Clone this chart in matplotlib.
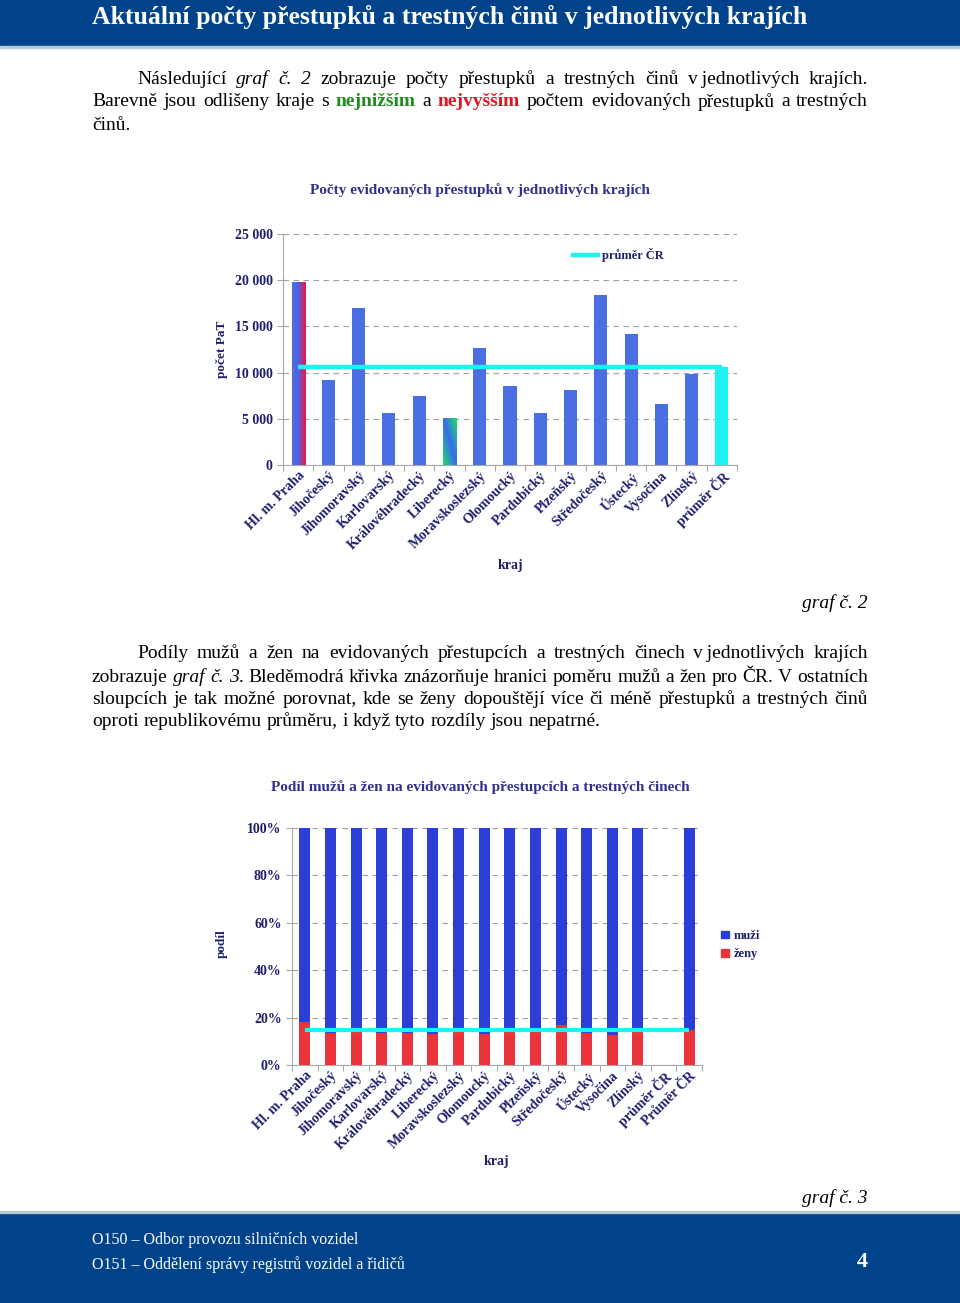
import numpy as np
import matplotlib
matplotlib.use('Agg')
import matplotlib.pyplot as plt
from matplotlib.patches import Rectangle, Patch
from matplotlib.lines import Line2D
from matplotlib.ticker import FuncFormatter, FixedLocator

# data
kraje = ['Hl. m. Praha', 'Jihočeský', 'Jihomoravský', 'Karlovarský', 'Královéhradecký',
         'Liberecký', 'Moravskoslezský', 'Olomoucký', 'Pardubický', 'Plzeňský',
         'Středočeský', 'Ústecký', 'Vysočina', 'Zlínský']
pocty = [19800, 9170, 16980, 5580, 7450, 5070, 12700, 8560, 5580, 8090,
         18350, 14210, 6550, 9820]
prumer_cr = 10610
zeny_pct = [18.0, 13.7, 14.5, 13.7, 13.7, 13.0, 14.1, 13.0, 14.4, 14.4,
            16.9, 13.7, 12.5, 14.1]
zeny_prumer = 14.8

W, H = 960, 1303
NAVY = '#1F1F6E'
TITLE_C = '#30308E'
BAND = '#00438A'
SERIF = 'Liberation Serif'
plt.rcParams['font.family'] = [SERIF, 'DejaVu Serif']

fig = plt.figure(figsize=(W / 100, H / 100), dpi=100)
fx = lambda x: x / W
fy = lambda y: 1 - y / H

# header / footer bands
fig.patches.append(Rectangle((0, fy(46)), 1, 46 / H, transform=fig.transFigure, color=BAND, zorder=0))
fig.patches.append(Rectangle((0, fy(48)), 1, 2 / H, transform=fig.transFigure, color='#B8C8DC', zorder=0))
fig.patches.append(Rectangle((0, 0), 1, (H - 1213) / H, transform=fig.transFigure, color=BAND, zorder=0))
fig.patches.append(Rectangle((0, fy(1213)), 1, 2 / H, transform=fig.transFigure, color='#B8C8DC', zorder=0))

fig.text(fx(92), fy(17), 'Aktuální počty přestupků a trestných činů v jednotlivých krajích',
         color='white', fontsize=18.5, fontweight='bold', va='center', ha='left')
fig.text(fx(92), fy(1240), 'O150 – Odbor provozu silničních vozidel', color='white',
         fontsize=11.5, va='center')
fig.text(fx(92), fy(1265), 'O151 – Oddělení správy registrů vozidel a řidičů', color='white',
         fontsize=11.5, va='center')
fig.text(fx(868), fy(1262), '4', color='white', fontsize=16, fontweight='bold', va='center', ha='right')

renderer = fig.canvas.get_renderer()
FS = 14


def para_line(words, y, x0, x1, justify=True):
    # words: list of words, each word a list of (text, style) runs
    objs = []
    widths = []
    for word in words:
        runs = []
        ww = 0
        for txt, st in word:
            t = fig.text(0, fy(y), txt, fontsize=FS, va='center', ha='left', **st)
            w = t.get_window_extent(renderer).width
            runs.append((t, w))
            ww += w
        objs.append(runs)
        widths.append(ww)
    if justify and len(words) > 1:
        gap = (x1 - x0 - sum(widths)) / (len(words) - 1)
    else:
        gap = 4.8
    x = x0
    for runs, ww in zip(objs, widths):
        xx = x
        for t, w in runs:
            t.set_x(fx(xx))
            xx += w
        x += ww + gap


def plain(s):
    return [[(w, {})] for w in s.split(' ')]


IT = {'style': 'italic'}
GREEN = {'color': '#1E8C1E', 'fontweight': 'bold'}
RED = {'color': '#E0141E', 'fontweight': 'bold'}

para_line([[('Následující', {})], [('graf', IT)], [('č.', IT)], [('2', IT)]]
          + plain('zobrazuje počty přestupků a trestných činů v\u2009jednotlivých krajích.'),
          79, 137, 868)
para_line(plain('Barevně jsou odlišeny kraje s') + [[('nejnižším', GREEN)], [('a', {})],
          [('nejvyšším', RED)]] + plain('počtem evidovaných přestupků a trestných'),
          102, 92, 868)
para_line(plain('činů.'), 125, 92, 868, justify=False)

para_line(plain('Podíly mužů a žen na evidovaných přestupcích a trestných činech v\u2009jednotlivých krajích'),
          654, 137, 868)
para_line(plain('zobrazuje') + [[('graf', IT)], [('č.', IT)], [('3', IT), ('.', {})]]
          + plain('Bleděmodrá křivka znázorňuje hranici poměru mužů a žen pro ČR. V ostatních'),
          677, 92, 868)
para_line(plain('sloupcích je tak možné porovnat, kde se ženy dopouštějí více či méně přestupků a trestných činů'),
          699, 92, 868)
para_line(plain('oproti republikovému průměru, i když tyto rozdíly jsou nepatrné.'), 721, 92, 868,
          justify=False)

fig.text(fx(868), fy(603), 'graf č. 2', fontsize=FS, style='italic', ha='right', va='center')
fig.text(fx(868), fy(1198), 'graf č. 3', fontsize=FS, style='italic', ha='right', va='center')


def style_axes(ax):
    for s in ['top', 'right']:
        ax.spines[s].set_visible(False)
    for s in ['left', 'bottom']:
        ax.spines[s].set_color('#A8A8A8')
        ax.spines[s].set_linewidth(0.8)
    ax.yaxis.grid(True, color='#A0A0A0', linestyle=(0, (5, 4)), linewidth=0.8)
    ax.set_axisbelow(True)
    ax.tick_params(axis='y', colors='#A8A8A8', labelcolor=NAVY, labelsize=10, length=4, width=0.8)
    ax.tick_params(axis='x', which='major', length=0, labelcolor=NAVY, labelsize=10, pad=3)
    ax.tick_params(axis='x', which='minor', length=4, color='#A8A8A8', width=0.8)
    for lab in ax.get_yticklabels() + ax.get_xticklabels():
        lab.set_fontweight('bold')


def gradient(ax, bar, stops, cols, diag=False):
    x, y = bar.get_x(), bar.get_y()
    w, h = bar.get_width(), bar.get_height()
    xs, ys = np.meshgrid(np.linspace(0, 1, 40), np.linspace(0, 1, 120))
    t = (xs + ys) / 2 if diag else xs
    cols = np.array([matplotlib.colors.to_rgb(c) for c in cols])
    img = np.dstack([np.interp(t, stops, cols[:, k]) for k in range(3)])
    im = ax.imshow(img, extent=[x, x + w, y, y + h], origin='lower', aspect='auto',
                   interpolation='bilinear', zorder=3)
    im.set_clip_path(bar)


# ---------- chart 1 ----------
kat1 = kraje + ['průměr ČR']
hod1 = pocty + [prumer_cr]
ax1 = fig.add_axes([fx(283), fy(465), fx(737) - fx(283), fy(234) - fy(465)])
pos1 = np.arange(len(kat1))
barcols = ['#4A6FE2'] * len(kraje) + ['#1EF2F2']
bars1 = ax1.bar(pos1, hod1, width=0.43, color=barcols, zorder=2)
gradient(ax1, bars1[0], [0, 0.45, 1], ['#4A6FE2', '#5060E0', '#F0143C'])
gradient(ax1, bars1[5], [0, 0.5, 1], ['#1EE060', '#3A6AF0', '#1EE060'], diag=True)
ax1.plot([pos1[0], pos1[-1]], [prumer_cr, prumer_cr], color='#1EF2F2', lw=3.2, zorder=4,
         solid_capstyle='butt')
ax1.set_xlim(-0.5, len(kat1) - 0.5)
ax1.set_ylim(0, 25000)
ax1.set_yticks(np.arange(0, 25001, 5000))
ax1.yaxis.set_major_formatter(FuncFormatter(lambda v, p: f'{int(v):,}'.replace(',', ' ')))
ax1.set_xticks(pos1)
ax1.set_xticklabels(kat1, rotation=45, ha='right', rotation_mode='anchor')
ax1.xaxis.set_minor_locator(FixedLocator(np.arange(-0.5, len(kat1), 1.0)))
style_axes(ax1)
ax1.legend(handles=[Line2D([], [], color='#1EF2F2', lw=3.2)], labels=['průměr ČR'],
           loc='center left', bbox_to_anchor=(fx(562), fy(255)), bbox_transform=fig.transFigure,
           frameon=False, handlelength=2.0, handletextpad=0.3,
           prop={'family': SERIF, 'weight': 'bold', 'size': 9})
for t in ax1.get_legend().get_texts():
    t.set_color(NAVY)
fig.text(fx(480), fy(190), 'Počty evidovaných přestupků v jednotlivých krajích', color=TITLE_C,
         fontsize=11, fontweight='bold', ha='center', va='center')
fig.text(fx(222), fy(349), 'počet PaT', color=NAVY, fontsize=9.5, fontweight='bold',
         rotation=90, ha='center', va='center')
fig.text(fx(510), fy(566), 'kraj', color=NAVY, fontsize=10, fontweight='bold', ha='center', va='center')

# ---------- chart 2 ----------
kat2 = kraje + ['průměr ČR', 'Průměr ČR']
zeny2 = zeny_pct + [np.nan, zeny_prumer]
ax2 = fig.add_axes([fx(292), fy(1065), fx(702) - fx(292), fy(828) - fy(1065)])
pos2 = np.arange(len(kat2))
zeny_arr = np.array(zeny2)
muzi_arr = 100 - zeny_arr
ax2.bar(pos2, zeny_arr, width=0.43, color='#E8343A', zorder=2)
ax2.bar(pos2, muzi_arr, width=0.43, bottom=zeny_arr, color='#2D3ED8', zorder=2)
ax2.plot([pos2[0], pos2[-1]], [zeny_prumer, zeny_prumer], color='#1EF2F2', lw=3, zorder=4,
         solid_capstyle='butt')
ax2.set_xlim(-0.5, len(kat2) - 0.5)
ax2.set_ylim(0, 100)
ax2.set_yticks(np.arange(0, 101, 20))
ax2.yaxis.set_major_formatter(FuncFormatter(lambda v, p: f'{int(v)}%'))
ax2.set_xticks(pos2)
ax2.set_xticklabels(kat2, rotation=45, ha='right', rotation_mode='anchor')
ax2.xaxis.set_minor_locator(FixedLocator(np.arange(-0.5, len(kat2), 1.0)))
style_axes(ax2)
ax2.legend(handles=[Patch(color='#2D3ED8'), Patch(color='#E8343A')], labels=['muži', 'ženy'],
           loc='center left', bbox_to_anchor=(fx(710), fy(945)), bbox_transform=fig.transFigure,
           frameon=False, handlelength=0.6, handleheight=0.6, handletextpad=0.4, labelspacing=0.5,
           prop={'family': SERIF, 'weight': 'bold', 'size': 9})
for t in ax2.get_legend().get_texts():
    t.set_color(NAVY)
fig.text(fx(480), fy(787), 'Podíl mužů a žen na evidovaných přestupcích a trestných činech',
         color=TITLE_C, fontsize=11, fontweight='bold', ha='center', va='center')
fig.text(fx(222), fy(944), 'podíl', color=NAVY, fontsize=9.5, fontweight='bold',
         rotation=90, ha='center', va='center')
fig.text(fx(496), fy(1162), 'kraj', color=NAVY, fontsize=10, fontweight='bold', ha='center', va='center')

fig.savefig('out.png', dpi=100)
